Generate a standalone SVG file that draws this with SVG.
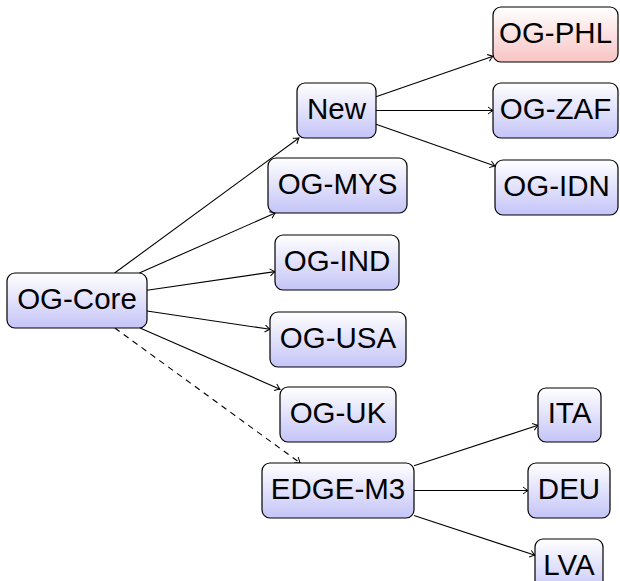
<svg xmlns="http://www.w3.org/2000/svg" width="620" height="581" viewBox="0 0 620 581">
<defs>
<linearGradient id="gb" x1="0" y1="0" x2="0" y2="1">
<stop offset="0" stop-color="#ffffff"/>
<stop offset="1" stop-color="#c4c4f8"/>
</linearGradient>
<linearGradient id="gr" x1="0" y1="0" x2="0" y2="1">
<stop offset="0" stop-color="#ffffff"/>
<stop offset="1" stop-color="#f8c4c4"/>
</linearGradient>
<marker id="ah" viewBox="-6 -5 8 10" markerWidth="8" markerHeight="10" refX="0" refY="0" orient="auto" markerUnits="userSpaceOnUse">
<path d="M -5 -3.5 Q -1.5 -0.8 0 0 Q -1.5 0.8 -5 3.5" fill="none" stroke="#000" stroke-width="1"/>
</marker>
</defs>
<style>
.n rect{fill:url(#gb);stroke:#000;stroke-width:1.2}
.n.red rect{fill:url(#gr)}
.n text{font-family:"Liberation Sans",Arial,sans-serif;font-size:29.5px;text-anchor:middle;fill:#000}
#edges line{stroke:#000;stroke-width:1.1;marker-end:url(#ah)}
#edges .d{stroke-dasharray:6 5}
</style>
<g id="edges">
<line x1="114.6" y1="273" x2="298.9" y2="138"/>
<line x1="139.3" y1="273" x2="275.2" y2="213"/>
<line x1="147" y1="290.3" x2="275" y2="271.6"/>
<line x1="147" y1="311" x2="270" y2="329.3"/>
<line x1="140" y1="328" x2="280" y2="389.2"/>
<line class="d" x1="114.8" y1="328" x2="300.2" y2="463"/>
<line x1="376" y1="96.8" x2="493" y2="56.2"/>
<line x1="376" y1="110.5" x2="493" y2="110.5"/>
<line x1="376" y1="124.3" x2="495" y2="166"/>
<line x1="414" y1="465.7" x2="538" y2="425.3"/>
<line x1="414" y1="490.5" x2="528" y2="490.5"/>
<line x1="414" y1="515.5" x2="535" y2="555.3"/>
</g>
<g id="og-core" class="n"><rect x="7" y="273" width="140" height="55" rx="8"/><text x="77" y="308.5">OG-Core</text></g>
<g id="new" class="n"><rect x="297" y="83" width="79" height="55" rx="8"/><text x="336.5" y="118.5">New</text></g>
<g id="og-phl" class="n red"><rect x="493" y="7" width="125" height="55" rx="8"/><text x="555.5" y="42.5">OG-PHL</text></g>
<g id="og-zaf" class="n"><rect x="493" y="83" width="125" height="55" rx="8"/><text x="555.5" y="118.5">OG-ZAF</text></g>
<g id="og-idn" class="n"><rect x="495" y="160" width="123" height="55" rx="8"/><text x="556.5" y="195.5">OG-IDN</text></g>
<g id="og-mys" class="n"><rect x="268" y="158" width="139" height="55" rx="8"/><text x="337.5" y="193.5">OG-MYS</text></g>
<g id="og-ind" class="n"><rect x="275" y="235" width="124" height="55" rx="8"/><text x="337" y="270.5">OG-IND</text></g>
<g id="og-usa" class="n"><rect x="270" y="312" width="136" height="55" rx="8"/><text x="338" y="347.5">OG-USA</text></g>
<g id="og-uk" class="n"><rect x="280" y="387" width="116" height="55" rx="8"/><text x="338" y="422.5">OG-UK</text></g>
<g id="edge-m3" class="n"><rect x="262" y="463" width="152" height="55" rx="8"/><text x="338" y="498.5">EDGE-M3</text></g>
<g id="ita" class="n"><rect x="538" y="388" width="63" height="54" rx="8"/><text x="569.5" y="422.5">ITA</text></g>
<g id="deu" class="n"><rect x="528" y="463" width="82" height="55" rx="8"/><text x="569" y="498.5">DEU</text></g>
<g id="lva" class="n"><rect x="535" y="539" width="68" height="55" rx="8"/><text x="569" y="574.5">LVA</text></g>
</svg>
